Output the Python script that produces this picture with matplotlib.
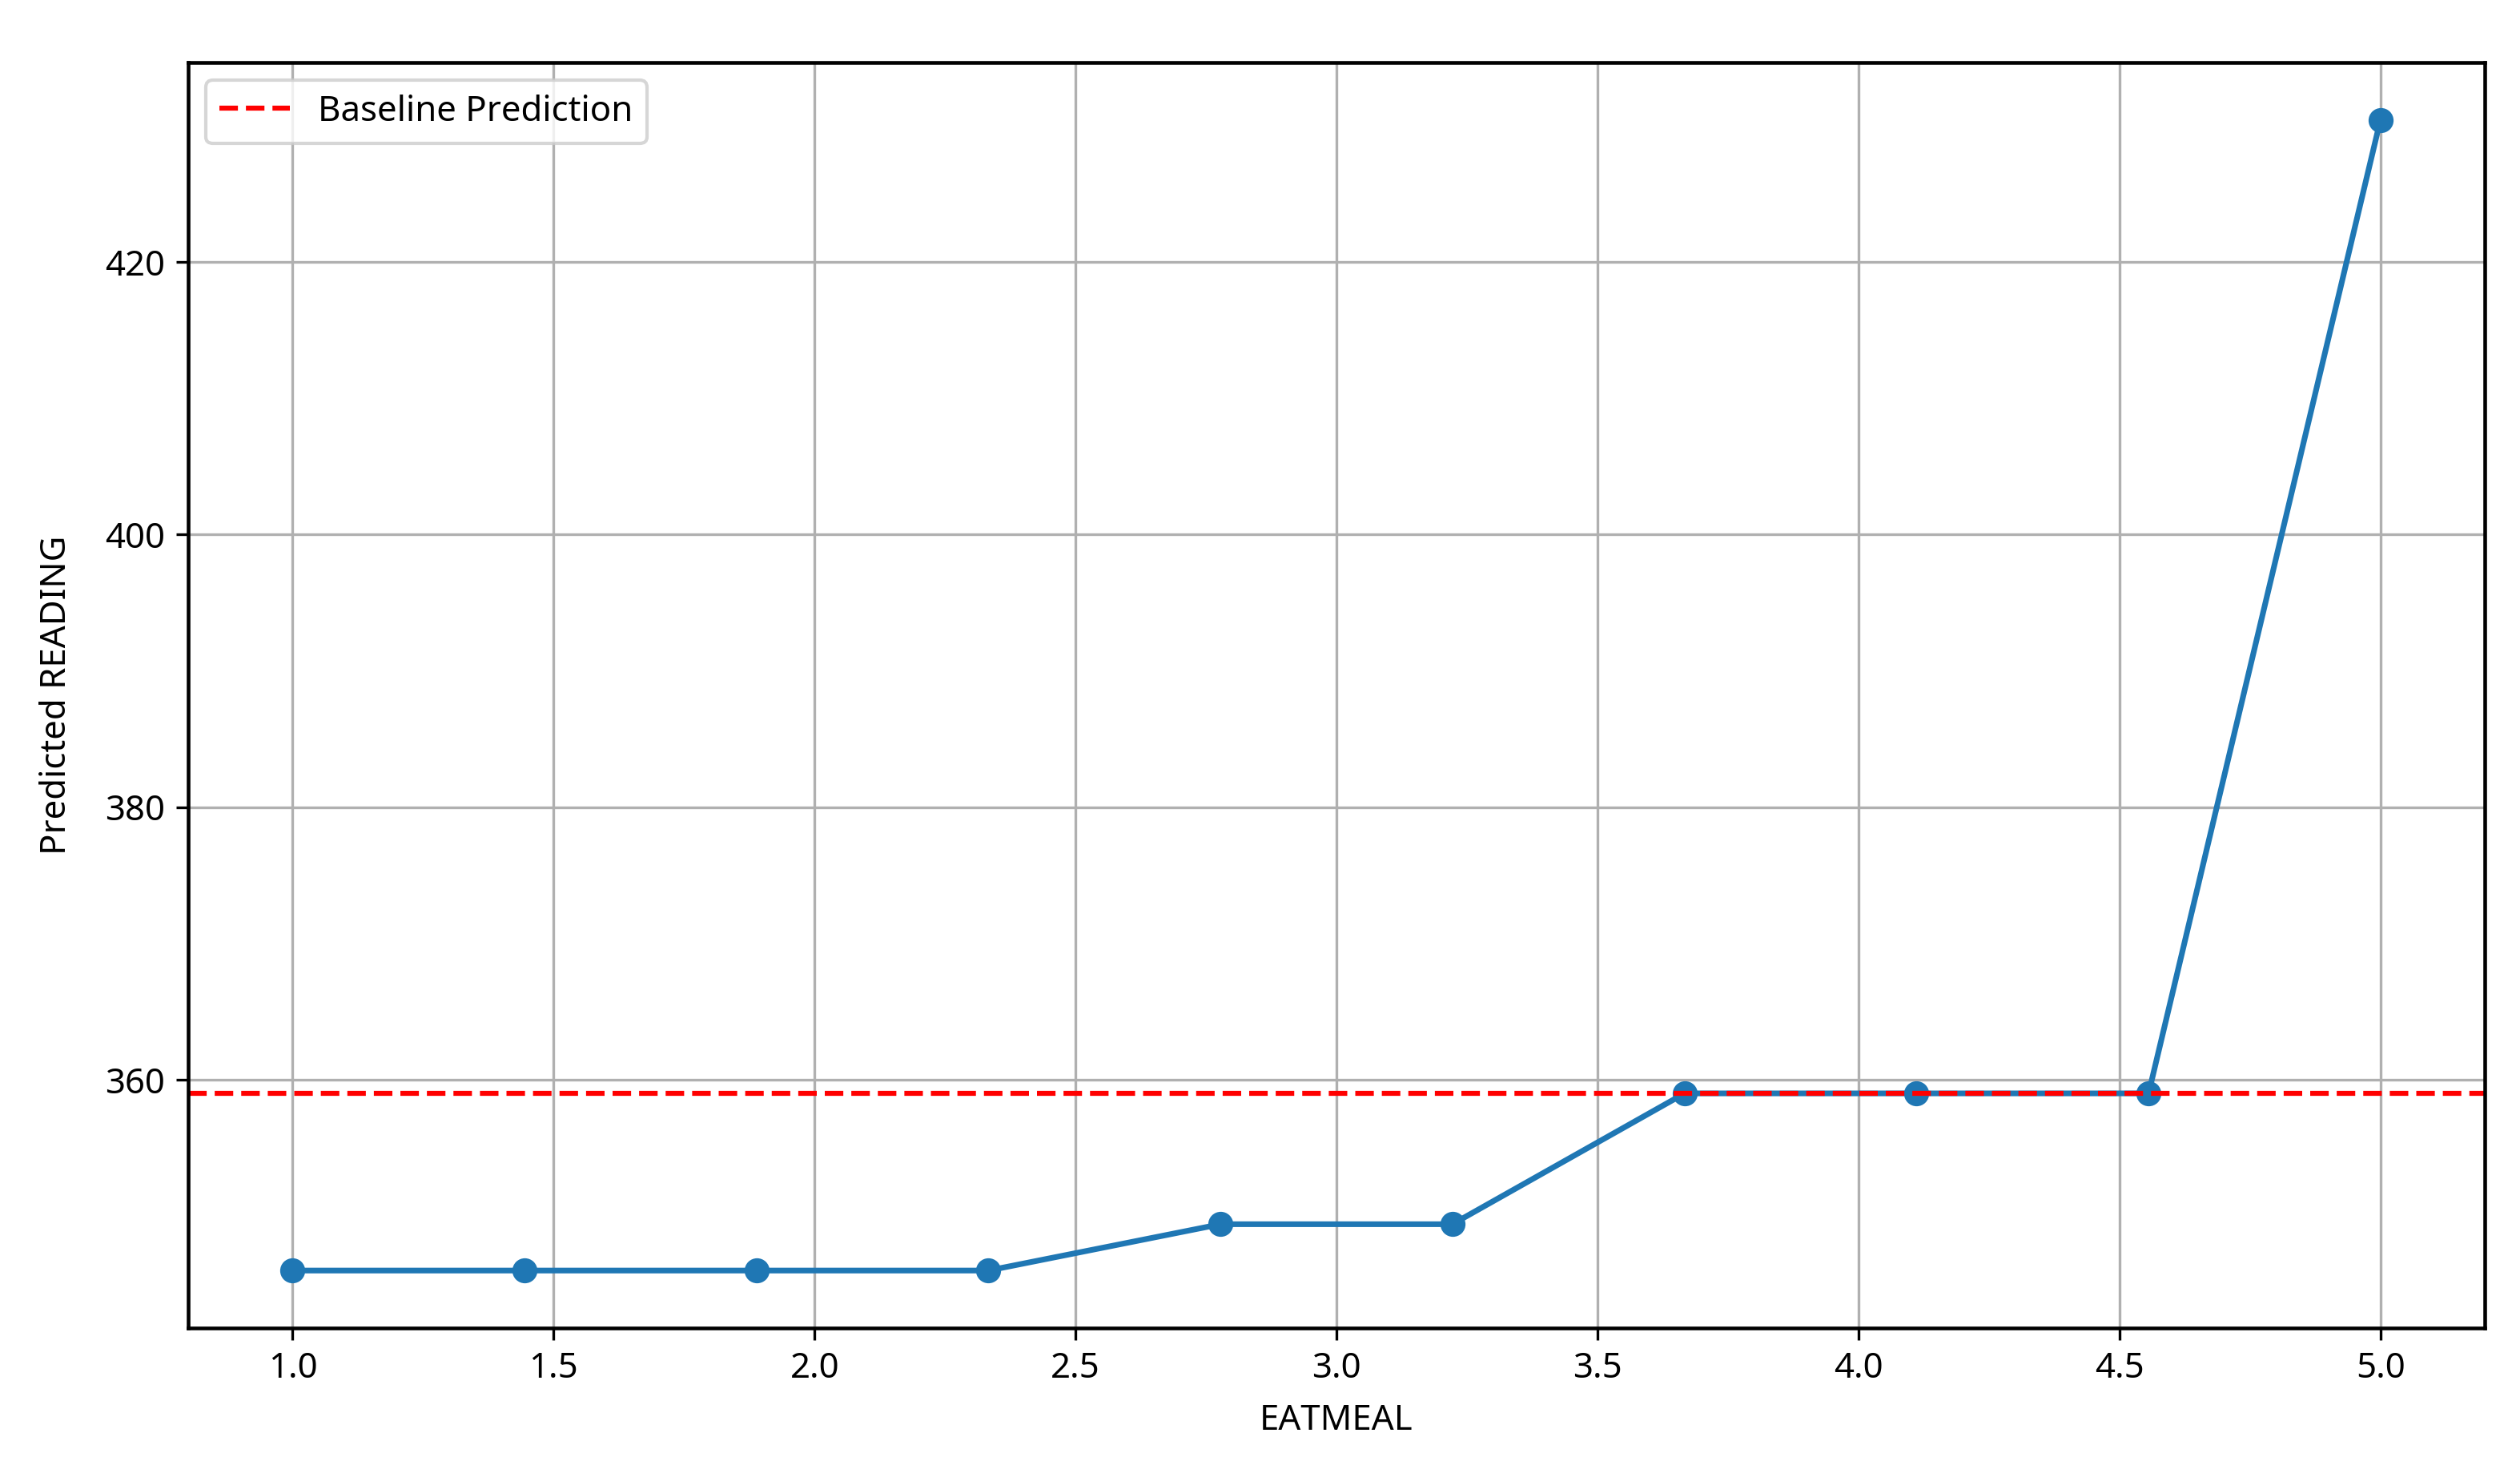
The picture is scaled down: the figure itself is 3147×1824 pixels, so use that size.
import matplotlib
matplotlib.use("Agg")
import matplotlib.pyplot as plt

plt.rcParams['font.family'] = ['Noto Sans', 'DejaVu Sans']

eatmeal = [1.0, 1.444, 1.889, 2.333, 2.778, 3.222, 3.667, 4.111, 4.556, 5.0]
predicted = [346.0, 346.0, 346.0, 346.0, 349.4, 349.4, 359.0, 359.0, 359.0, 430.4]
baseline = 359.0


def main():
    fig = plt.figure(figsize=(3147 / 300, 1824 / 300), dpi=300)
    ax = fig.add_axes([0.0747, 0.091, 0.9113, 0.866])

    ax.plot(eatmeal, predicted, marker='o', color='#1f77b4', linewidth=1.7, markersize=6.5)
    ax.axhline(baseline, color='red', linestyle='--', linewidth=1.5, label="Baseline Prediction")

    ax.set_xlabel("EATMEAL", fontsize=10.5, labelpad=5)
    ax.set_ylabel("Predicted READING", fontsize=10.5, labelpad=9)
    ax.set_yticks([360, 380, 400, 420])
    ax.tick_params(labelsize=10.5)
    ax.grid(True, color='#b0b0b0', linewidth=0.8)
    for s in ax.spines.values():
        s.set_linewidth(1.1)
    ax.legend(loc='upper left', fontsize=10.5)

    fig.savefig("out.png", dpi=300)


if __name__ == '__main__':
    main()
